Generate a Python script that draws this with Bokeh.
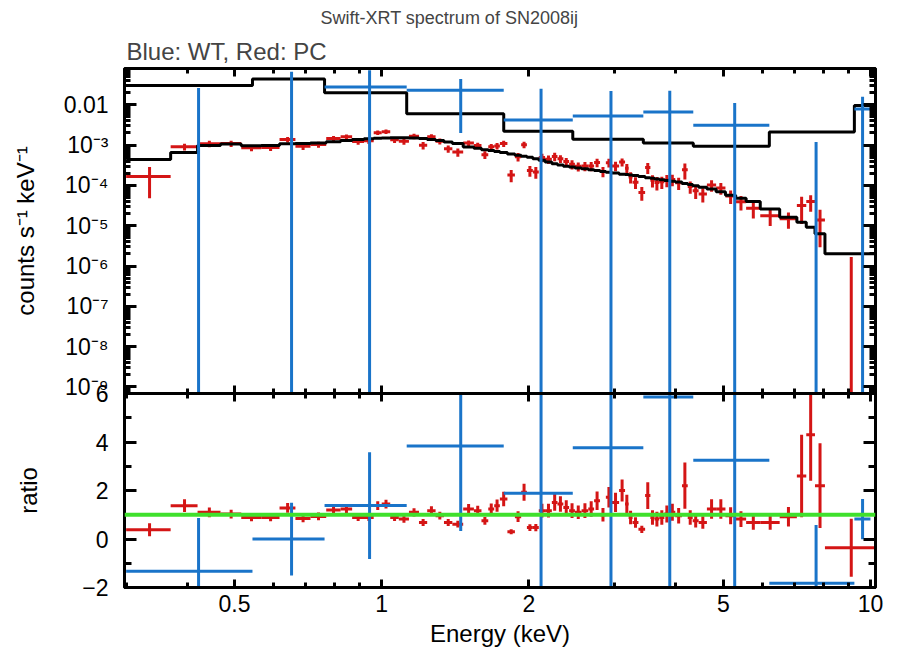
import numpy as np
from bokeh.plotting import figure
from bokeh.layouts import column
from bokeh.models import (Range1d, LogAxis, LinearAxis, FixedTicker, CustomJSTickFormatter,
                          SingleIntervalTicker, Title, Span)
from bokeh.embed import file_html
from bokeh.resources import INLINE

FONT = "Liberation Sans"
BLUE = "#1a74c9"
RED = "#d41515"
GREEN = "#3fe02c"

# ---------------- WT (blue) ----------------
wt_edges = [0.30, 0.544, 0.764, 1.125, 1.777, 2.46, 3.43, 4.34, 6.21, 9.27, 10.0]
wt_rate = [-0.040, 0.0, 0.0276, 0.0230, 0.0042, 0.0053, 0.0066, 0.0031, -0.0038, 0.0079]
wt_rate_err = [0.066, 0.066, 0.044, 0.021, 0.021, 0.0168, 0.0157, 0.0080, 0.0050, 0.0080]
wt_model = [0.030, 0.044, 0.020, 0.0060, 0.0022, 0.0014, 0.00112, 0.00094, 0.0021, 0.0096]
wt_ratio = [-1.33, 0.0, 1.38, 3.83, 1.89, 3.76, 5.86, 3.25, -1.82, 0.82]
wt_ratio_err = [2.2, 1.5, 2.2, 3.5, 9.5, 12.0, 14.0, 8.5, 2.4, 0.83]

# ---------------- PC (red) ----------------
pc_edges = [0.300, 0.370, 0.420, 0.468, 0.516, 0.567, 0.618, 0.666, 0.715, 0.770,
            0.824, 0.870, 0.920, 0.963, 1.000, 1.041, 1.084, 1.137, 1.192, 1.239,
            1.289, 1.341, 1.395, 1.468, 1.544, 1.600, 1.652, 1.699, 1.745, 1.808,
            1.873, 1.929, 1.982, 2.038, 2.096, 2.159, 2.229, 2.289, 2.353, 2.418,
            2.485, 2.564, 2.646, 2.720, 2.797, 2.875, 2.958, 3.060, 3.147, 3.200,
            3.260, 3.352, 3.459, 3.546, 3.616, 3.697, 3.787, 3.877, 3.987, 4.115,
            4.228, 4.328, 4.451, 4.628, 4.833, 5.050, 5.299, 5.567, 5.950, 6.520,
            7.070, 7.390, 7.700, 8.070, 10.20]
pc_model = [4.4e-4, 6.6e-4, 9.8e-4, 1.06e-3, 9.6e-4, 9.8e-4, 1.08e-3, 1.10e-3, 1.12e-3, 1.22e-3,
            1.30e-3, 1.38e-3, 1.44e-3, 1.48e-3, 1.50e-3, 1.52e-3, 1.52e-3, 1.50e-3, 1.45e-3, 1.38e-3,
            1.30e-3, 1.20e-3, 1.10e-3, 9.0e-4, 8.3e-4, 7.7e-4, 7.3e-4, 6.9e-4, 6.6e-4, 6.0e-4,
            5.6e-4, 5.3e-4, 5.0e-4, 4.6e-4, 4.2e-4, 3.8e-4, 3.45e-4, 3.2e-4, 3.0e-4, 2.85e-4,
            2.7e-4, 2.58e-4, 2.45e-4, 2.35e-4, 2.22e-4, 2.13e-4, 2.02e-4, 1.90e-4, 1.86e-4, 1.82e-4,
            1.76e-4, 1.66e-4, 1.55e-4, 1.50e-4, 1.44e-4, 1.38e-4, 1.32e-4, 1.27e-4, 1.21e-4, 1.12e-4,
            1.05e-4, 9.8e-5, 9.0e-5, 8.2e-5, 7.0e-5, 5.7e-5, 4.8e-5, 4.0e-5, 2.6e-5, 1.62e-5,
            1.22e-5, 9.2e-6, 6.3e-6, 2.0e-6]
pc_rate = [1.67e-4, 9.08e-4, 1.08e-3, 1.09e-3, 8.54e-4, 8.72e-4, 1.38e-3, 9.35e-4, 1.04e-3, 1.46e-3,
           1.61e-3, 1.23e-3, 1.28e-3, 2.04e-3, 2.16e-3, 1.35e-3, 1.25e-3, 1.65e-3, 9.86e-4, 1.61e-3,
           1.25e-3, 8.16e-4, 6.71e-4, 1.12e-3, 9.71e-4, 5.78e-4, 9.05e-4, 9.49e-4, 1.09e-3, 1.80e-4,
           5.15e-4, 1.02e-3, 2.35e-4, 2.16e-4, 4.91e-4, 4.45e-4, 5.21e-4, 4.61e-4, 3.90e-4, 3.33e-4,
           2.97e-4, 3.02e-4, 3.04e-4, 3.71e-4, 2.22e-4, 3.66e-4, 3.05e-4, 3.80e-4, 2.68e-4, 1.62e-4,
           1.20e-4, 6.64e-5, 2.77e-4, 1.34e-4, 1.18e-4, 1.23e-4, 1.36e-4, 1.40e-4, 1.16e-4, 2.46e-4,
           9.35e-5, 7.35e-5, 6.12e-5, 1.02e-4, 8.68e-5, 5.47e-5, 3.94e-5, 2.72e-5, 1.77e-5, 1.49e-5,
           3.17e-5, 3.96e-5, 1.39e-5, -7.2e-7]
pc_rate_err = [1.19e-4, 1.72e-4, 1.96e-4, 1.91e-4, 1.54e-4, 1.57e-4, 2.16e-4, 1.76e-4, 1.79e-4, 2.20e-4,
               2.34e-4, 2.07e-4, 2.16e-4, 2.66e-4, 2.70e-4, 2.28e-4, 2.28e-4, 2.55e-4, 2.03e-4, 2.48e-4,
               2.08e-4, 1.68e-4, 1.54e-4, 1.80e-4, 1.66e-4, 1.23e-4, 1.61e-4, 1.73e-4, 1.98e-4, 6.0e-5,
               1.23e-4, 1.86e-4, 7.0e-5, 6.9e-5, 1.18e-4, 1.06e-4, 1.21e-4, 1.02e-4, 9.0e-5, 8.55e-5,
               7.56e-5, 7.74e-5, 7.84e-5, 8.93e-5, 6.22e-5, 8.95e-5, 8.08e-5, 8.55e-5, 7.07e-5, 5.10e-5,
               3.87e-5, 2.49e-5, 8.53e-5, 4.5e-5, 4.32e-5, 4.14e-5, 4.62e-5, 4.45e-5, 3.87e-5, 1.06e-4,
               3.15e-5, 2.74e-5, 2.34e-5, 3.28e-5, 2.8e-5, 2.0e-5, 1.54e-5, 1.2e-5, 7.8e-6, 6.5e-6,
               2.07e-5, 1.75e-5, 1.10e-5, 2.4e-6]
pc_ratio = [0.38, 1.375, 1.10, 1.03, 0.89, 0.89, 1.28, 0.85, 0.93, 1.20,
            1.24, 0.89, 0.89, 1.38, 1.44, 0.89, 0.82, 1.10, 0.68, 1.17,
            0.96, 0.68, 0.61, 1.24, 1.17, 0.75, 1.24, 1.375, 1.65, 0.30,
            0.92, 1.93, 0.47, 0.47, 1.17, 1.17, 1.51, 1.44, 1.30, 1.17,
            1.10, 1.17, 1.24, 1.58, 1.00, 1.72, 1.51, 2.00, 1.44, 0.89,
            0.68, 0.40, 1.79, 0.89, 0.82, 0.89, 1.03, 1.10, 0.96, 2.20,
            0.89, 0.75, 0.68, 1.24, 1.24, 0.96, 0.82, 0.68, 0.68, 0.92,
            2.60, 4.30, 2.20, -0.36]
pc_ratio_err = [0.27, 0.26, 0.20, 0.18, 0.16, 0.16, 0.20, 0.16, 0.16, 0.18,
                0.18, 0.15, 0.15, 0.18, 0.18, 0.15, 0.15, 0.17, 0.14, 0.18,
                0.16, 0.14, 0.14, 0.20, 0.20, 0.16, 0.22, 0.25, 0.30, 0.10,
                0.22, 0.35, 0.14, 0.15, 0.28, 0.28, 0.35, 0.32, 0.30, 0.30,
                0.28, 0.30, 0.32, 0.38, 0.28, 0.42, 0.40, 0.45, 0.38, 0.28,
                0.22, 0.15, 0.55, 0.30, 0.30, 0.30, 0.35, 0.35, 0.32, 0.95,
                0.30, 0.28, 0.26, 0.40, 0.40, 0.35, 0.32, 0.30, 0.30, 0.40,
                1.70, 1.90, 1.75, 1.20]

y_ticks = [1e-9, 1e-8, 1e-7, 1e-6, 1e-5, 1e-4, 1e-3, 1e-2]
x_ticks = [0.5, 1, 2, 5, 10]
x_minor = [0.3, 0.4, 0.6, 0.7, 0.8, 0.9, 3, 4, 6, 7, 8, 9]

X_RANGE = Range1d(0.2977, 10.24)
LOG_FLOOR = 1e-14
OVL = 14  # overlap between the two canvases so that the frames touch

LOG_FMT = CustomJSTickFormatter(code="""
const e = Math.round(Math.log10(tick));
if (e === -2) { return "0.01"; }
const sup = {"-": "\\u207b", "0": "\\u2070", "1": "\\u00b9", "2": "\\u00b2", "3": "\\u00b3",
             "4": "\\u2074", "5": "\\u2075", "6": "\\u2076", "7": "\\u2077", "8": "\\u2078", "9": "\\u2079"};
let s = "10";
for (const c of String(e)) { s += sup[c]; }
return s;
""")
X_FMT = CustomJSTickFormatter(code="return String(tick);")
LIN_FMT = CustomJSTickFormatter(code="return tick < 0 ? '\\u2212' + Math.abs(tick) : String(tick);")


def style_axis(ax, tick_in, minor_in, labels=True):
    ax.axis_line_width = 3
    ax.axis_line_color = "black"
    ax.major_tick_in = tick_in
    ax.major_tick_out = 0
    ax.minor_tick_in = minor_in
    ax.minor_tick_out = 0
    ax.major_tick_line_width = 3
    ax.minor_tick_line_width = 3
    ax.major_tick_line_color = "black"
    ax.minor_tick_line_color = "black"
    ax.major_label_text_font = FONT
    ax.axis_label_text_font = FONT
    ax.axis_label_text_font_style = "normal"
    ax.axis_label_text_color = "black"
    ax.axis_label_text_font_size = "24px"
    if labels:
        ax.major_label_text_font_size = "23px"
        ax.major_label_text_color = "black"
    else:
        ax.major_label_text_font_size = "0px"
        ax.major_label_text_color = None
        ax.major_label_standoff = 0


def centers(edges):
    e = np.asarray(edges)
    return 0.5 * (e[:-1] + e[1:])


# ---------------- top panel ----------------
p1 = figure(x_axis_type="log", y_axis_type="log", x_range=X_RANGE,
            y_range=Range1d(6.86e-10, 0.0796),
            frame_width=751, frame_height=325,
            min_border_left=124, min_border_right=10, min_border_top=0, min_border_bottom=OVL,
            output_backend="svg", toolbar_location=None, title=None)
p1.grid.visible = False
p1.outline_line_color = "black"
p1.outline_line_width = 3
p1.background_fill_color = "white"
p1.border_fill_color = "white"

ytk = FixedTicker(ticks=y_ticks,
                  minor_ticks=[m * 10.0 ** k for k in range(-10, -1) for m in range(2, 10)])
xtk = FixedTicker(ticks=x_ticks, minor_ticks=x_minor)

p1.yaxis.ticker = ytk
p1.yaxis.formatter = LOG_FMT
p1.yaxis.axis_label = "counts s\u207b\u00b9 keV\u207b\u00b9"
for ax in p1.yaxis:
    style_axis(ax, 12, 6)
    ax.major_label_standoff = 16
    ax.axis_label_standoff = 22
p1.xaxis.ticker = xtk
for ax in p1.xaxis:
    style_axis(ax, 8, 5, labels=False)

r_ax = LogAxis(ticker=ytk, formatter=LOG_FMT)
style_axis(r_ax, 12, 6, labels=False)
p1.add_layout(r_ax, "right")
t_ax = LogAxis(ticker=xtk, formatter=X_FMT)
style_axis(t_ax, 8, 5, labels=False)
p1.add_layout(t_ax, "above")
p1.add_layout(Title(text="Blue: WT, Red: PC", align="left", offset=2, standoff=7,
                    text_font=FONT, text_font_size="24px", text_font_style="normal"), "above")
p1.add_layout(Title(text="Swift-XRT spectrum of SN2008ij", align="left", offset=196, standoff=10,
                    text_font=FONT, text_font_size="18px", text_font_style="normal"), "above")

pc_c = centers(pc_edges)
pc_lo = np.asarray(pc_edges[:-1])
pc_hi = np.asarray(pc_edges[1:])
pr = np.asarray(pc_rate)
pe = np.asarray(pc_rate_err)
pos = pr > 0
p1.segment(x0=pc_c, x1=pc_c, y0=np.maximum(pr - pe, LOG_FLOOR), y1=pr + pe,
           line_color=RED, line_width=3)
p1.segment(x0=pc_lo[pos], x1=pc_hi[pos], y0=pr[pos], y1=pr[pos], line_color=RED, line_width=3)
p1.step(x=pc_edges, y=pc_model + [pc_model[-1]], mode="after", line_color="black", line_width=3)

wt_c = centers(wt_edges)
wt_lo = np.asarray(wt_edges[:-1])
wt_hi = np.asarray(wt_edges[1:])
wr = np.asarray(wt_rate)
we = np.asarray(wt_rate_err)
wpos = wr > 0
p1.step(x=wt_edges, y=wt_model + [wt_model[-1]], mode="after", line_color="black", line_width=3)
p1.segment(x0=wt_c, x1=wt_c, y0=np.maximum(wr - we, LOG_FLOOR), y1=wr + we,
           line_color=BLUE, line_width=3)
p1.segment(x0=wt_lo[wpos], x1=wt_hi[wpos], y0=wr[wpos], y1=wr[wpos], line_color=BLUE, line_width=3)

# ---------------- ratio panel ----------------
p2 = figure(x_axis_type="log", x_range=X_RANGE, y_range=Range1d(-2, 6),
            frame_width=751, frame_height=194,
            min_border_left=124, min_border_right=10, min_border_top=OVL, min_border_bottom=30,
            output_backend="svg", toolbar_location=None, title=None,
            margin=(-2 * OVL, 0, 0, 0))
p2.grid.visible = False
p2.outline_line_color = "black"
p2.outline_line_width = 3
p2.background_fill_color = "white"
p2.border_fill_alpha = 0.0

ltk = SingleIntervalTicker(interval=2, num_minor_ticks=2)
p2.yaxis.ticker = ltk
p2.yaxis.formatter = LIN_FMT
p2.yaxis.axis_label = "ratio"
for ax in p2.yaxis:
    style_axis(ax, 12, 7)
    ax.major_label_standoff = 16
    ax.axis_label_standoff = 37
p2.xaxis.ticker = xtk
p2.xaxis.formatter = X_FMT
p2.xaxis.axis_label = "Energy (keV)"
for ax in p2.xaxis:
    style_axis(ax, 8, 5)
    ax.major_label_standoff = 7
    ax.axis_label_standoff = 5

r2 = LinearAxis(ticker=ltk, formatter=LIN_FMT)
style_axis(r2, 12, 7, labels=False)
p2.add_layout(r2, "right")
t2 = LogAxis(ticker=xtk, formatter=X_FMT)
style_axis(t2, 8, 5, labels=False)
p2.add_layout(t2, "above")

rr = np.asarray(pc_ratio)
re_ = np.asarray(pc_ratio_err)
p2.segment(x0=pc_c, x1=pc_c, y0=rr - re_, y1=rr + re_, line_color=RED, line_width=3)
p2.segment(x0=pc_lo, x1=pc_hi, y0=rr, y1=rr, line_color=RED, line_width=3)

wrr = np.asarray(wt_ratio)
wre = np.asarray(wt_ratio_err)
p2.segment(x0=wt_c, x1=wt_c, y0=wrr - wre, y1=wrr + wre, line_color=BLUE, line_width=3)
p2.segment(x0=wt_lo, x1=wt_hi, y0=wrr, y1=wrr, line_color=BLUE, line_width=3)

p2.add_layout(Span(location=1.0, dimension="width", line_color=GREEN, line_width=4))

layout = column(p1, p2, spacing=0)
open("out.html", "w").write(file_html(layout, INLINE))
